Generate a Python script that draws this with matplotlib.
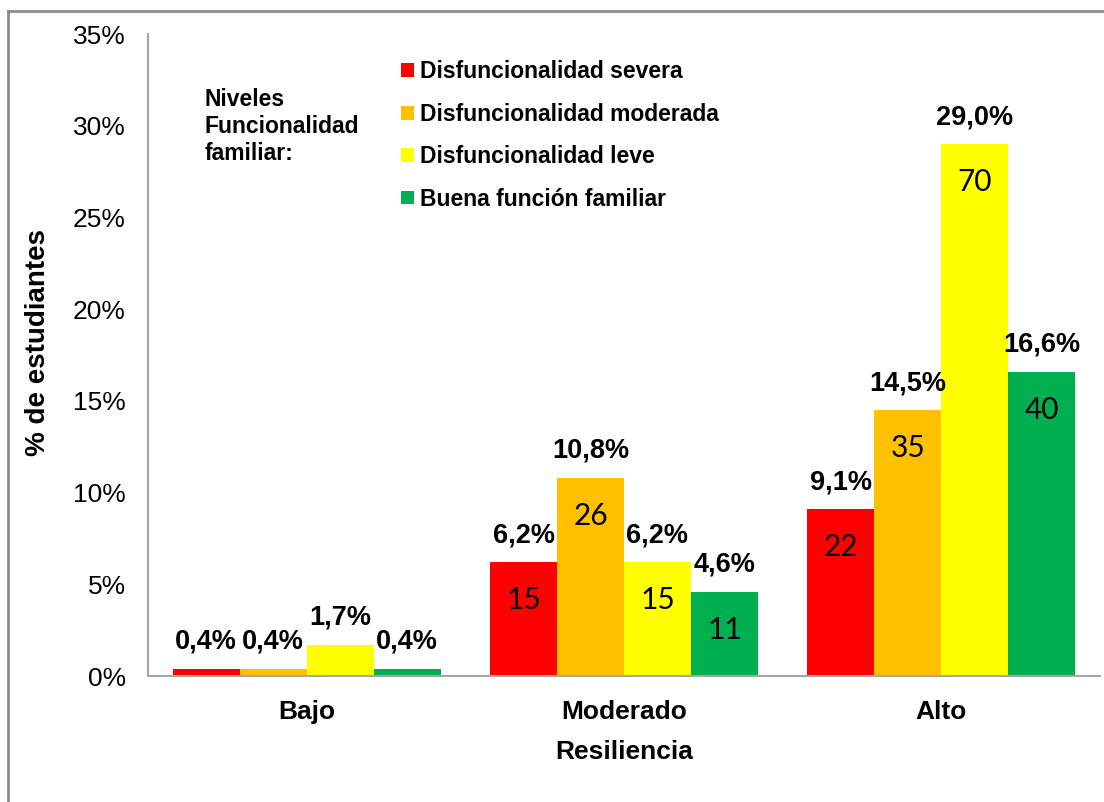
import numpy as np
import matplotlib
matplotlib.use('Agg')
import matplotlib.pyplot as plt
from matplotlib.patches import Patch
from matplotlib.lines import Line2D

plt.rcParams['font.family'] = ['Liberation Sans', 'DejaVu Sans']

categorias = ['Bajo', 'Moderado', 'Alto']
series = ['Disfuncionalidad severa', 'Disfuncionalidad moderada',
          'Disfuncionalidad leve', 'Buena función familiar']
colores = ['#FF0000', '#FFC000', '#FFFF00', '#00B050']
porcentajes = [
    [0.4, 6.2, 9.1],    # severa
    [0.4, 10.8, 14.5],  # moderada
    [1.7, 6.2, 29.0],   # leve
    [0.4, 4.6, 16.6],   # buena
]
conteos = [
    [1, 15, 22],
    [1, 26, 35],
    [4, 15, 70],
    [1, 11, 40],
]
yticks = [0, 5, 10, 15, 20, 25, 30, 35]

fig = plt.figure(figsize=(11.04, 8.02), dpi=100)
ax = fig.add_axes([148/1104, 1-676/802, 952/1104, 642/802])

x = np.arange(len(categorias))
w = 0.211
for i in range(len(series)):
    xs = x + (i - 1.5) * w
    ax.bar(xs, porcentajes[i], width=w, color=colores[i], label=series[i])
    for j in range(len(categorias)):
        v = porcentajes[i][j]
        ax.annotate(f'{v:.1f}%'.replace('.', ','), (xs[j], v),
                    xytext=(0, 27), textcoords='offset pixels',
                    ha='center', va='center', fontsize=19.5, fontweight='bold')
        if j > 0:
            ax.annotate(str(conteos[i][j]), (xs[j], v),
                        xytext=(0, -38), textcoords='offset pixels',
                        ha='center', va='center', fontsize=21.5,
                        family=['Lato', 'DejaVu Sans'])

ax.set_xlim(-0.5, 2.5)
ax.set_ylim(0, 35)
ax.set_yticks(yticks)
ax.set_yticklabels([f'{t}%' for t in yticks], fontsize=19)
ax.set_xticks(x)
ax.set_xticklabels(categorias, fontsize=19, fontweight='bold')
ax.tick_params(axis='both', length=0)
ax.tick_params(axis='y', pad=16)
ax.tick_params(axis='x', pad=17)
for s in ['top', 'right']:
    ax.spines[s].set_visible(False)
for s in ['left', 'bottom']:
    ax.spines[s].set_color('#A6A6A6')
    ax.spines[s].set_linewidth(1.5)

ax.set_xlabel('Resiliencia', fontsize=19, fontweight='bold', labelpad=12)
fig.text(38/1104, 1-343/802, '% de estudiantes', rotation=90, ha='center',
         va='center', fontsize=20, fontweight='bold')

handles = [Patch(facecolor=c, edgecolor='none') for c in colores]
ax.legend(handles, series, loc='upper left', bbox_to_anchor=(0.254, 0.977),
          frameon=False, handlelength=0.55, handleheight=0.55,
          handletextpad=0.25, labelspacing=0.85, borderpad=0,
          prop={'weight': 'bold', 'size': 16.5})

ax.text(0.059, 0.916, 'Niveles\nFuncionalidad\nfamiliar:', transform=ax.transAxes,
        ha='left', va='top', fontsize=16.5, fontweight='bold', linespacing=1.22)

# marco gris exterior
fig.add_artist(Line2D([8/1104, 8/1104], [-0.01, 1-11/802], color='#8C8C8C',
                      lw=2, transform=fig.transFigure))
fig.add_artist(Line2D([8/1104, 1.01], [1-11/802, 1-11/802], color='#8C8C8C',
                      lw=2, transform=fig.transFigure))

fig.savefig('out.png', dpi=100)
